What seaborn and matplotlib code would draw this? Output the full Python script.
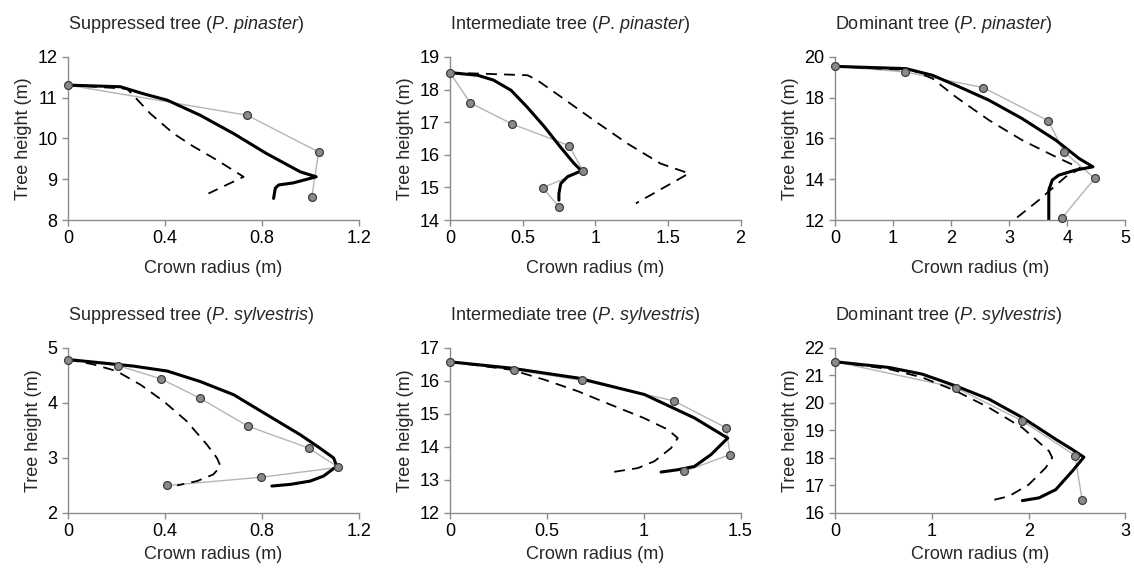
import numpy as np
import pandas as pd
import matplotlib
matplotlib.use("Agg")
import matplotlib.pyplot as plt
import seaborn as sns
from matplotlib.ticker import FuncFormatter

# ---- data (crown radius in m, tree height in m) ----
# suppressed P. pinaster
p1_obs_r = [0, 0.74, 1.035, 1.007]
p1_obs_h = [11.31, 10.57, 9.67, 8.57]
p1_fit_r = [0, 0.216, 0.31, 0.41, 0.546, 0.684, 0.82, 0.96, 1.025, 0.93, 0.87, 0.856, 0.849]
p1_fit_h = [11.31, 11.27, 11.10, 10.94, 10.57, 10.12, 9.63, 9.18, 9.06, 8.91, 8.86, 8.78, 8.53]
p1_alt_r = [0, 0.244, 0.34, 0.436, 0.519, 0.615, 0.725, 0.58]
p1_alt_h = [11.31, 11.22, 10.61, 10.12, 9.80, 9.47, 9.06, 8.65]

# intermediate P. pinaster
p2_obs_r = [0, 0.14, 0.43, 0.82, 0.916, 0.637, 0.75]
p2_obs_h = [18.52, 17.59, 16.94, 16.28, 15.5, 14.99, 14.41]
p2_fit_r = [0, 0.19, 0.30, 0.42, 0.53, 0.65, 0.76, 0.855, 0.905, 0.81, 0.763, 0.75, 0.75]
p2_fit_h = [18.52, 18.44, 18.29, 17.98, 17.47, 16.86, 16.24, 15.73, 15.51, 15.33, 15.12, 14.82, 14.61]
p2_alt_r = [0, 0.534, 0.60, 0.763, 0.99, 1.22, 1.45, 1.645, 1.28]
p2_alt_h = [18.52, 18.44, 18.29, 17.78, 17.06, 16.35, 15.73, 15.43, 14.51]

# dominant P. pinaster
p3_obs_r = [0, 1.2, 2.55, 3.67, 3.94, 4.47, 3.91]
p3_obs_h = [19.54, 19.27, 18.50, 16.87, 15.35, 14.04, 12.11]
p3_fit_r = [0, 1.22, 1.68, 2.08, 2.65, 3.22, 3.80, 4.20, 4.44, 4.14, 3.85, 3.74, 3.68, 3.68]
p3_fit_h = [19.54, 19.43, 19.10, 18.61, 17.88, 16.98, 15.92, 15.02, 14.61, 14.45, 14.20, 13.96, 13.47, 12.0]
p3_alt_r = [0, 1.33, 1.68, 2.08, 2.65, 3.22, 3.80, 4.23, 3.97, 3.51, 3.08]
p3_alt_h = [19.54, 19.35, 18.94, 18.04, 16.90, 15.92, 15.10, 14.53, 14.12, 12.98, 12.0]

# suppressed P. sylvestris
p4_obs_r = [0, 0.206, 0.383, 0.544, 0.742, 0.994, 1.117, 0.798, 0.409]
p4_obs_h = [4.79, 4.68, 4.44, 4.09, 3.58, 3.18, 2.83, 2.65, 2.50]
p4_fit_r = [0, 0.271, 0.41, 0.546, 0.684, 0.82, 0.96, 1.04, 1.097, 1.11, 1.055, 1.0, 0.918, 0.842]
p4_fit_h = [4.79, 4.67, 4.58, 4.39, 4.15, 3.79, 3.42, 3.18, 3.0, 2.85, 2.67, 2.58, 2.52, 2.49]
p4_alt_r = [0, 0.106, 0.20, 0.30, 0.395, 0.49, 0.574, 0.615, 0.63, 0.60, 0.533, 0.45]
p4_alt_h = [4.79, 4.70, 4.58, 4.33, 4.03, 3.67, 3.24, 3.0, 2.85, 2.70, 2.58, 2.50]

# intermediate P. sylvestris
p5_obs_r = [0, 0.329, 0.68, 1.155, 1.426, 1.446, 1.21]
p5_obs_h = [16.58, 16.34, 16.02, 15.40, 14.58, 13.77, 13.26]
p5_fit_r = [0, 0.315, 0.66, 1.004, 1.262, 1.434, 1.348, 1.262, 1.176, 1.09]
p5_fit_h = [16.58, 16.39, 16.09, 15.59, 14.88, 14.27, 13.77, 13.41, 13.31, 13.24]
p5_alt_r = [0, 0.315, 0.487, 0.66, 0.83, 1.0, 1.124, 1.176, 1.142, 1.056, 0.97, 0.84]
p5_alt_h = [16.58, 16.34, 16.04, 15.69, 15.28, 14.88, 14.53, 14.27, 13.97, 13.57, 13.36, 13.24]

# dominant P. sylvestris
p6_obs_r = [0, 1.247, 1.935, 2.478, 2.553]
p6_obs_h = [21.50, 20.56, 19.35, 18.09, 16.46]
p6_fit_r = [0, 0.56, 0.90, 1.247, 1.59, 1.935, 2.28, 2.45, 2.57, 2.45, 2.28, 2.107, 1.935]
p6_fit_h = [21.50, 21.29, 21.05, 20.62, 20.14, 19.47, 18.68, 18.31, 18.03, 17.52, 16.85, 16.55, 16.45]
p6_alt_r = [0, 0.56, 0.90, 1.247, 1.59, 1.935, 2.21, 2.244, 2.175, 2.0, 1.797, 1.608]
p6_alt_h = [21.50, 21.23, 20.93, 20.44, 19.83, 19.10, 18.25, 18.01, 17.64, 17.03, 16.61, 16.45]

titles = [r"Suppressed tree ($\mathit{P.\,pinaster}$)",
          r"Intermediate tree ($\mathit{P.\,pinaster}$)",
          r"Dominant tree ($\mathit{P.\,pinaster}$)",
          r"Suppressed tree ($\mathit{P.\,sylvestris}$)",
          r"Intermediate tree ($\mathit{P.\,sylvestris}$)",
          r"Dominant tree ($\mathit{P.\,sylvestris}$)"]
x_ticks = [[0, 0.4, 0.8, 1.2], [0, 0.5, 1, 1.5, 2], [0, 1, 2, 3, 4, 5],
           [0, 0.4, 0.8, 1.2], [0, 0.5, 1, 1.5], [0, 1, 2, 3]]
y_ticks = [[8, 9, 10, 11, 12], [14, 15, 16, 17, 18, 19], [12, 14, 16, 18, 20],
           [2, 3, 4, 5], [12, 13, 14, 15, 16, 17], [16, 17, 18, 19, 20, 21, 22]]

panels = [
    (p1_obs_r, p1_obs_h, p1_fit_r, p1_fit_h, p1_alt_r, p1_alt_h),
    (p2_obs_r, p2_obs_h, p2_fit_r, p2_fit_h, p2_alt_r, p2_alt_h),
    (p3_obs_r, p3_obs_h, p3_fit_r, p3_fit_h, p3_alt_r, p3_alt_h),
    (p4_obs_r, p4_obs_h, p4_fit_r, p4_fit_h, p4_alt_r, p4_alt_h),
    (p5_obs_r, p5_obs_h, p5_fit_r, p5_fit_h, p5_alt_r, p5_alt_h),
    (p6_obs_r, p6_obs_h, p6_fit_r, p6_fit_h, p6_alt_r, p6_alt_h),
]

sns.set_style("ticks")
plt.rcParams["font.family"] = ["Liberation Sans", "DejaVu Sans"]
plt.rcParams["mathtext.fontset"] = "custom"
plt.rcParams["mathtext.rm"] = "Liberation Sans"
plt.rcParams["mathtext.it"] = "Liberation Sans:italic"
plt.rcParams["font.size"] = 13

fig = plt.figure(figsize=(11.34, 5.71), dpi=100)
lefts = [0.060, 0.3968, 0.7363]
rows = [(0.6147, 0.2855), (0.1016, 0.2890)]

for i, (obs_r, obs_h, fit_r, fit_h, alt_r, alt_h) in enumerate(panels):
    bottom, height = rows[i // 3]
    ax = fig.add_axes([lefts[i % 3], bottom, 0.2562, height])

    sns.lineplot(x=obs_r, y=obs_h, sort=False, estimator=None, ax=ax,
                 color="#b5b5b5", linewidth=1.0)
    sns.lineplot(x=alt_r, y=alt_h, sort=False, estimator=None, ax=ax,
                 color="black", linewidth=1.3)
    ax.lines[-1].set_dashes([6, 4])
    sns.lineplot(x=fit_r, y=fit_h, sort=False, estimator=None, ax=ax,
                 color="black", linewidth=2.2)
    sns.scatterplot(x=obs_r, y=obs_h, ax=ax, s=32, color="#8a8a8a",
                    edgecolor="#3c3c3c", linewidth=0.9, zorder=5, clip_on=False)

    ax.set_xlim(x_ticks[i][0], x_ticks[i][-1])
    ax.set_ylim(y_ticks[i][0], y_ticks[i][-1])
    ax.set_xticks(x_ticks[i])
    ax.set_yticks(y_ticks[i])
    fmt = FuncFormatter(lambda v, p: "%g" % v)
    ax.xaxis.set_major_formatter(fmt)
    ax.yaxis.set_major_formatter(fmt)
    ax.tick_params(colors="#8c8c8c", labelcolor="black", labelsize=13, length=4, width=1)
    for s in ["left", "bottom"]:
        ax.spines[s].set_color("#8c8c8c")
        ax.spines[s].set_linewidth(1)
    sns.despine(ax=ax)

    ax.set_title(titles[i], loc="left", fontsize=13, pad=20)
    ax.set_xlabel("Crown radius (m)", fontsize=13, labelpad=9 if i < 3 else 4)
    ax.set_ylabel("Tree height (m)", fontsize=13)

fig.savefig("out.png", dpi=100)
